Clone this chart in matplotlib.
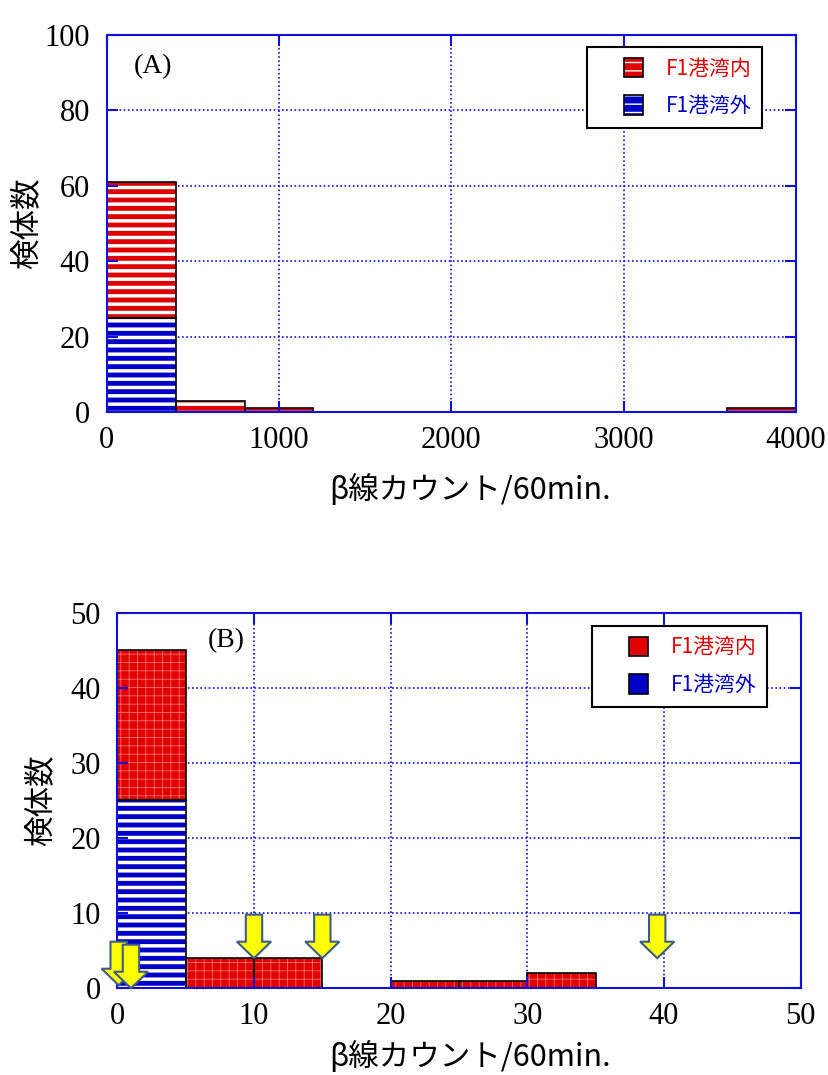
import numpy as np
import matplotlib.pyplot as plt
from matplotlib.patches import Patch, Rectangle, FancyArrow
from matplotlib.legend_handler import HandlerPatch

plt.rcParams['font.family'] = ['Liberation Serif', 'DejaVu Serif']
CJK = ['Noto Sans CJK JP', 'DejaVu Sans']

# ---- data ----
# panel A : bin width 400
bins_a = [0, 400, 800, 1200, 1600, 2000, 2400, 2800, 3200, 3600]
soto_a = [25, 0, 0, 0, 0, 0, 0, 0, 0, 0]      # F1港湾外
nai_a = [36, 3, 1, 0, 0, 0, 0, 0, 0, 1]       # F1港湾内 (stacked on top)

# panel B : bin width 5
bins_b = [0, 5, 10, 15, 20, 25, 30, 35, 40, 45]
soto_b = [25, 0, 0, 0, 0, 0, 0, 0, 0, 0]
nai_b = [20, 4, 4, 0, 1, 1, 2, 0, 0, 0]

# yellow arrows in panel B (x position, tip height)
arrow_x = [0.1, 1.0, 10, 15, 39.5]
arrow_tip = [0.4, 0.0, 4, 4, 4]

labels = ['F1港湾内', 'F1港湾外']
RED = '#e00000'
BLUE = '#0000c8'
AXBLUE = '#1010d8'


def draw_bars(ax, left, width, vals, bottom, color, hatch, hcolor, hlw):
    idx = [i for i, v in enumerate(vals) if v > 0]
    x = [left[i] for i in idx]
    h = [vals[i] for i in idx]
    b = [bottom[i] for i in idx]
    with plt.rc_context({'hatch.color': hcolor, 'hatch.linewidth': hlw}):
        ax.bar(x, h, width, bottom=b, align='edge', color=color,
               hatch=hatch, linewidth=0, zorder=1)
    ax.bar(x, h, width, bottom=b, align='edge', fill=False,
           edgecolor='black', linewidth=1.2, zorder=1.1)


def style_axes(ax, xmax, ymax, xstep, ystep):
    ax.set_xlim(0, xmax)
    ax.set_ylim(0, ymax)
    ax.set_xticks(np.arange(0, xmax + 1, xstep))
    ax.set_yticks(np.arange(0, ymax + 1, ystep))
    for v in ax.get_xticks()[1:-1]:
        ax.axvline(v, color=AXBLUE, lw=1.2, ls=(0, (1, 1.5)), zorder=0.5)
    for v in ax.get_yticks()[1:-1]:
        ax.axhline(v, color=AXBLUE, lw=1.2, ls=(0, (1, 1.5)), zorder=0.5)
    for s in ax.spines.values():
        s.set_color(AXBLUE)
        s.set_linewidth(1.5)
    ax.tick_params(direction='in', length=8, width=1.5, color=AXBLUE,
                   top=True, right=True, labelsize=22)
    ax.tick_params(axis='y', pad=12)
    ax.tick_params(axis='x', pad=10)


def square(legend, orig_handle, xdescent, ydescent, width, height, fontsize):
    return Rectangle((-xdescent + width - height, -ydescent), height, height)


def make_legend(ax, handles, anchor):
    leg = ax.legend(handles, labels, loc='upper right', bbox_to_anchor=anchor,
                    borderaxespad=0, prop={'family': 'Noto Sans CJK JP', 'size': 15},
                    handlelength=2.2, handleheight=1.05, handletextpad=1.1,
                    borderpad=0.5, labelspacing=0.75, fancybox=False,
                    edgecolor='black', framealpha=1,
                    handler_map={Patch: HandlerPatch(patch_func=square)})
    leg.get_frame().set_linewidth(1.5)
    for t, c in zip(leg.get_texts(), [RED, BLUE]):
        t.set_color(c)
    leg.set_zorder(7)


fig = plt.figure(figsize=(8.29, 10.75), dpi=100)

# ---------- panel A ----------
ax1 = fig.add_axes([0.1287, 0.6167, 0.8315, 0.3507])
draw_bars(ax1, bins_a, 400, soto_a, [0] * 10, BLUE, '--', 'white', 2.5)
draw_bars(ax1, bins_a, 400, nai_a, soto_a, RED, '--', 'white', 2.5)
style_axes(ax1, 4000, 100, 1000, 20)
ax1.text(0.067, 0.916, '(A)', transform=ax1.transAxes, fontsize=20,
         ha='center', va='center')
ax1.set_xlabel('β線カウント/60min.', family=CJK, fontsize=22, va='top')
ax1.xaxis.set_label_coords(0.527, -0.165)
ax1.set_ylabel('検体数', family=CJK, fontsize=22)
ax1.yaxis.set_label_coords(-0.094, 0.5)

with plt.rc_context({'hatch.color': 'white', 'hatch.linewidth': 2.5}):
    hA = [(Patch(facecolor=RED, hatch='--', linewidth=0),
           Patch(fill=False, edgecolor='black', linewidth=1.2)),
          (Patch(facecolor=BLUE, hatch='--', linewidth=0),
           Patch(fill=False, edgecolor='black', linewidth=1.2))]
make_legend(ax1, hA, (0.9507, 0.968))

# ---------- panel B ----------
ax2 = fig.add_axes([0.1415, 0.0807, 0.8244, 0.3493])
draw_bars(ax2, bins_b, 5, soto_b, [0] * 10, BLUE, '--', 'white', 2.5)
draw_bars(ax2, bins_b, 5, nai_b, soto_b, RED, '++', '#f07070', 0.6)
style_axes(ax2, 50, 50, 10, 10)
ax2.text(0.159, 0.927, '(B)', transform=ax2.transAxes, fontsize=20,
         ha='center', va='center')
ax2.set_xlabel('β線カウント/60min.', family=CJK, fontsize=22, va='top')
ax2.xaxis.set_label_coords(0.516, -0.14)
ax2.set_ylabel('検体数', family=CJK, fontsize=22)
ax2.yaxis.set_label_coords(-0.09, 0.5)

for x, tip in zip(arrow_x, arrow_tip):
    ax2.add_patch(FancyArrow(x, tip + 5.8, 0, -5.8, width=1.2, head_width=2.5,
                             head_length=2.2, length_includes_head=True,
                             facecolor='#ffff00', edgecolor='#3d5c8a', lw=1.5,
                             clip_on=False, zorder=6))

hB = [(Patch(facecolor=RED, linewidth=0),
       Patch(fill=False, edgecolor='black', linewidth=1.2)),
      (Patch(facecolor=BLUE, linewidth=0),
       Patch(fill=False, edgecolor='black', linewidth=1.2))]
make_legend(ax2, hB, (0.951, 0.9646))

fig.savefig('out.png', dpi=100)
